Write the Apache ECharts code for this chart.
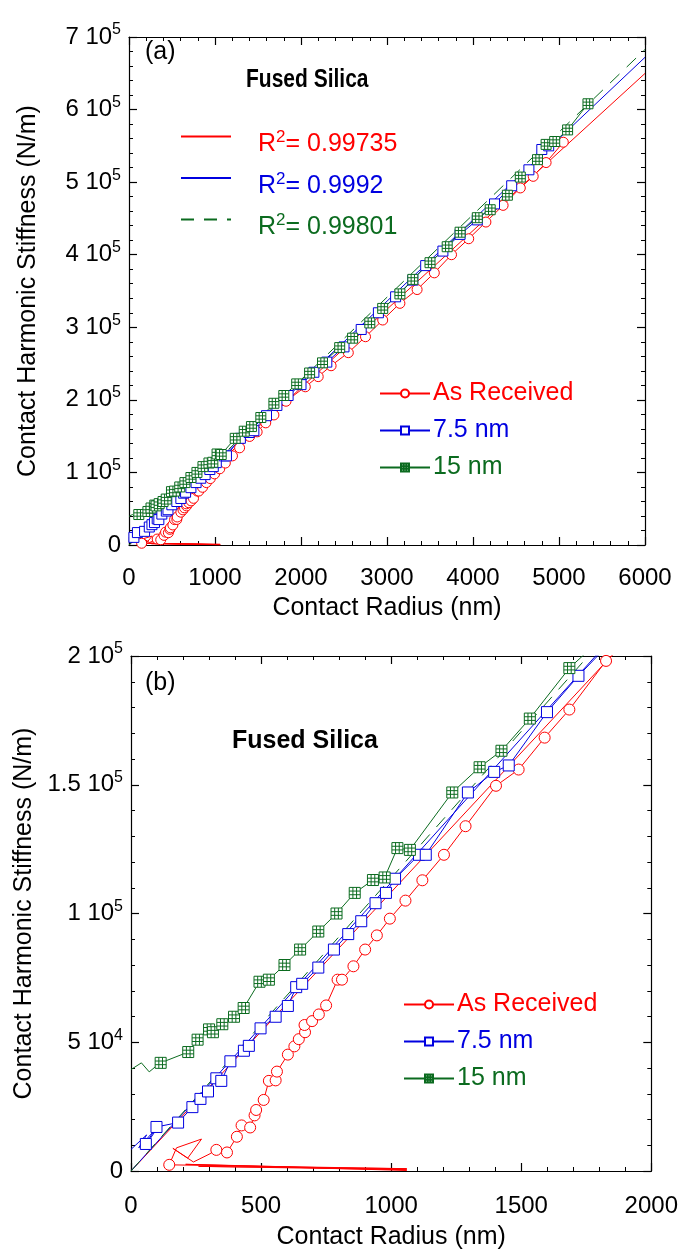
<!DOCTYPE html>
<html><head><meta charset="utf-8">
<script src="https://cdn.jsdelivr.net/npm/echarts@6/dist/echarts.min.js"></script>
<style>html,body{margin:0;padding:0;background:#fff}#c{width:681px;height:1251px}</style>
</head><body><div id="c"></div><script>
// ---- data (contact radius nm, stiffness N/m) ----
const seriesNames = ['As Received', '7.5 nm', '15 nm'];
const r2Labels = ['0.99735', '0.9992', '0.99801'];
const fitSlopes = [108.3, 112.0, 113.8];   // N/m per nm (linear fits through origin)
const fitRange = [0, 6000];

const asRecMarks = [[147,2400],[328,8200],[369,7200],[407,13300],[425,17700],[458,16900],[475,21600],[481,23700],[510,27600],[530,35000],[556,35200],[561,38600],[603,45200],[628,48400],[645,51200],[669,53900],[667,56700],[696,58200],[722,60800],[750,64300],[794,74300],[811,74300],[855,79500],[900,86000],[945,91500],[995,98000],[1055,105000],[1120,112900],[1203,122800],[1286,133900],[1403,149600],[1490,155900],[1590,168300],[1685,179200],[1826,198100],[2050,218000],[2200,232000],[2350,247000],[2550,265000],[2750,287000],[2950,310000],[3150,333000],[3350,352000],[3550,375000],[3750,400000],[3950,422000],[4150,445000],[4350,468000],[4550,492000],[4700,508000],[4850,527000],[5050,555000]];
const asRecPath = [[1060,200],[210,2600],[1060,500],[260,1800],[1060,900],[147,2400],[175,9000],[271,12400],[218,5000],[161,8800],[240,3500],[300,6500],[328,8200],[369,7200],[407,13300],[425,17700],[458,16900],[475,21600],[481,23700],[510,27600],[530,35000],[556,35200],[561,38600],[603,45200],[628,48400],[645,51200],[669,53900],[667,56700],[696,58200],[722,60800],[750,64300],[794,74300],[811,74300],[855,79500],[900,86000],[945,91500],[995,98000],[1055,105000],[1120,112900],[1203,122800],[1286,133900],[1403,149600],[1490,155900],[1590,168300],[1685,179200],[1826,198100],[2050,218000],[2200,232000],[2350,247000],[2550,265000],[2750,287000],[2950,310000],[3150,333000],[3350,352000],[3550,375000],[3750,400000],[3950,422000],[4150,445000],[4350,468000],[4550,492000],[4700,508000],[4850,527000],[5050,555000]];

const nm75Marks = [[57,10500],[98,17100],[181,18800],[236,24800],[267,28000],[296,30900],[328,36000],[347,35000],[382,42600],[434,46700],[453,48600],[498,55400],[556,59900],[603,64100],[635,71400],[658,72700],[720,79000],[780,86000],[835,92000],[885,97000],[940,104000],[980,108000],[1015,113500],[1107,122800],[1133,122800],[1295,147000],[1396,155000],[1452,157500],[1599,178200],[1720,192300],[1850,206000],[2000,221000],[2150,238000],[2300,252000],[2500,273000],[2700,297000],[2900,320000],[3100,342000],[3300,365000],[3450,385000],[3650,405000],[3850,428000],[4050,448000],[4250,470000],[4450,495000],[4650,517000],[4800,545000],[4880,550000]];
const nm75Path = [[0,8400],[60,14000],[30,9000],[110,18000],[70,12000],[57,10500],[98,17100],[181,18800],[236,24800],[267,28000],[296,30900],[328,36000],[347,35000],[382,42600],[434,46700],[453,48600],[498,55400],[556,59900],[603,64100],[635,71400],[658,72700],[720,79000],[780,86000],[835,92000],[885,97000],[940,104000],[980,108000],[1015,113500],[1107,122800],[1133,122800],[1295,147000],[1396,155000],[1452,157500],[1599,178200],[1720,192300],[1850,206000],[2000,221000],[2150,238000],[2300,252000],[2500,273000],[2700,297000],[2900,320000],[3100,342000],[3300,365000],[3450,385000],[3650,405000],[3850,428000],[4050,448000],[4250,470000],[4450,495000],[4650,517000],[4800,545000],[4880,550000]];

const nm15Marks = [[114,42000],[220,46200],[256,51000],[300,55000],[315,53900],[351,57000],[396,59900],[433,63300],[494,73500],[530,74300],[590,80000],[650,86000],[720,93000],[790,100000],[860,108000],[930,113000],[975,114000],[1024,125400],[1072,124700],[1235,147000],[1340,156800],[1424,163200],[1533,175700],[1685,195300],[1800,206000],[1950,222000],[2100,237000],[2250,251000],[2450,272000],[2600,285000],[2800,306000],[2950,326000],[3150,346000],[3300,366000],[3500,389000],[3700,411000],[3850,431000],[4050,451000],[4200,462000],[4400,482000],[4550,507000],[4750,531000],[4850,552000],[4950,556000],[5100,572000],[5337,608000]];
const nm15Path = [[0,39400],[40,42000],[70,38500],[100,41000],[114,42000],[220,46200],[256,51000],[300,55000],[315,53900],[351,57000],[396,59900],[433,63300],[494,73500],[530,74300],[590,80000],[650,86000],[720,93000],[790,100000],[860,108000],[930,113000],[975,114000],[1024,125400],[1072,124700],[1235,147000],[1340,156800],[1424,163200],[1533,175700],[1685,195300],[1800,206000],[1950,222000],[2100,237000],[2250,251000],[2450,272000],[2600,285000],[2800,306000],[2950,326000],[3150,346000],[3300,366000],[3500,389000],[3700,411000],[3850,431000],[4050,451000],[4200,462000],[4400,482000],[4550,507000],[4750,531000],[4850,552000],[4950,556000],[5100,572000],[5337,608000]];

// ---- styling ----
const FONT = '"Liberation Sans", Arial, sans-serif';
const COLORS = ['#ff0000', '#0000e0', '#0b6b1f'];
const GRID_SYM = 'path://M0 0H9V9H0Z M3 0V9 M6 0V9 M0 3H9 M0 6H9';
const SYMBOLS = ['circle', 'rect', GRID_SYM];
const paths = [asRecPath, nm75Path, nm15Path];
const marks = [asRecMarks, nm75Marks, nm15Marks];

function sciLabel(v) {
  if (v === 0) return '{b|0}';
  const e = Math.floor(Math.log10(v) + 1e-9);
  const m = +(v / Math.pow(10, e)).toFixed(2);
  return '{b|' + m + ' 10}{s|' + e + '}';
}
const labelRich = {
  b: {fontSize: 24, fontFamily: FONT, color: '#000'},
  s: {fontSize: 16, fontFamily: FONT, color: '#000', verticalAlign: 'top', padding: [0, 0, 14, 0]}
};
function axisCommon(extra) {
  return Object.assign({
    type: 'value', splitLine: {show: false},
    axisLine: {show: true, onZero: false, lineStyle: {color: '#000', width: 1.2}},
    axisTick: {show: true, inside: true, length: 8, lineStyle: {color: '#000', width: 1.2}},
    minorTick: {show: true, splitNumber: 5, length: 4, lineStyle: {color: '#000', width: 1}},
  }, extra);
}
function xAxes(gi, max, interval, gap, margin) {
  return [
    axisCommon({gridIndex: gi, min: 0, max: max, interval: interval, position: 'bottom',
      name: 'Contact Radius (nm)', nameLocation: 'middle', nameGap: gap,
      nameTextStyle: {fontSize: 25, fontFamily: FONT, color: '#000'},
      axisLabel: {fontSize: 24, fontFamily: FONT, color: '#000', margin: margin, formatter: function (v) { return String(v); }}}),
    axisCommon({gridIndex: gi, min: 0, max: max, interval: interval, position: 'top', axisLabel: {show: false}})
  ];
}
function yAxes(gi, max, interval) {
  return [
    axisCommon({gridIndex: gi, min: 0, max: max, interval: interval, position: 'left',
      name: 'Contact Harmonic Stiffness (N/m)', nameLocation: 'middle', nameGap: 88,
      nameTextStyle: {fontSize: 25, fontFamily: FONT, color: '#000'},
      axisLabel: {margin: 8, formatter: sciLabel, rich: labelRich}}),
    axisCommon({gridIndex: gi, min: 0, max: max, interval: interval, position: 'right', axisLabel: {show: false}})
  ];
}

const series = [];
[0, 1].forEach(function (gi) {
  const xi = gi * 2, yi = gi * 2;
  const symSize = gi === 0 ? 10 : 11;
  // fit lines
  fitSlopes.forEach(function (k, i) {
    series.push({
      type: 'line', name: gi === 0 ? 'fit' + i : 'fitB' + i, xAxisIndex: xi, yAxisIndex: yi,
      data: fitRange.map(function (x) { return [x, k * x]; }),
      symbol: 'none', silent: true, clip: true, z: 1,
      itemStyle: {color: 'rgba(0,0,0,0)', borderWidth: 0},
      lineStyle: {color: COLORS[i], width: 1, type: i === 2 ? [13, 10] : 'solid'}
    });
  });
  // data series
  seriesNames.forEach(function (nm, i) {
    series.push({
      type: 'line', name: nm, xAxisIndex: xi, yAxisIndex: yi, data: paths[i],
      symbol: SYMBOLS[i], symbolSize: symSize, showSymbol: false, clip: true, z: 2,
      lineStyle: {color: COLORS[i], width: 1},
      itemStyle: {color: '#fff', borderColor: COLORS[i], borderWidth: 1}
    });
    series.push({
      type: 'scatter', name: nm, xAxisIndex: xi, yAxisIndex: yi, data: marks[i],
      symbol: SYMBOLS[i], symbolSize: symSize, clip: true, z: 3,
      itemStyle: {color: '#fff', borderColor: COLORS[i], borderWidth: 1, opacity: 1}
    });
  });
});

function seriesLegend(left, top) {
  return {
    orient: 'vertical', left: left, top: top, padding: 0, itemWidth: 50, itemHeight: 10, itemGap: 12,
    selectedMode: false,
    data: seriesNames.map(function (n, i) { return {name: n, textStyle: {color: COLORS[i]}}; }),
    textStyle: {fontSize: 25, fontFamily: FONT, padding: [0, 0, 0, -2]}
  };
}
const r2Rich = {};
COLORS.forEach(function (c, i) {
  r2Rich['t' + i] = {fontSize: 25, fontFamily: FONT, color: c};
  r2Rich['s' + i] = {fontSize: 17, fontFamily: FONT, color: c, verticalAlign: 'top', padding: [0, 0, 14, 0]};
});

const option = {
  backgroundColor: '#fff', animation: false,
  grid: [
    {left: 129, right: 36, top: 37, bottom: 706, containLabel: false},
    {left: 131, right: 28, top: 656, bottom: 73, containLabel: false}
  ],
  xAxis: xAxes(0, 6000, 1000, 51, 21).concat(xAxes(1, 2000, 500, 54, 23)),
  yAxis: yAxes(0, 700000, 100000).concat(yAxes(1, 200000, 50000)),
  title: [
    {text: '(a)', left: 145, top: 40, padding: 0, textStyle: {fontSize: 25, fontWeight: 'normal', fontFamily: FONT, color: '#000'}},
    {text: '(b)', left: 145, top: 671, padding: 0, textStyle: {fontSize: 25, fontWeight: 'normal', fontFamily: FONT, color: '#000'}},
    {text: 'Fused Silica', left: 232, top: 729, padding: 0, textStyle: {fontSize: 25, fontWeight: 'bold', fontFamily: FONT, color: '#000'}}
  ],
  graphic: [
    {type: 'text', x: 246, y: 68, scaleX: 0.84, style: {text: 'Fused Silica', fontSize: 25, fontWeight: 'bold', fontFamily: FONT, fill: '#000'}}
  ],
  legend: [
    seriesLegend(379, 381),
    seriesLegend(403, 992),
    {
      orient: 'vertical', left: 180, top: 129, padding: 0, itemWidth: 50, itemHeight: 10, itemGap: 13.5,
      selectedMode: false,
      data: ['fit0', 'fit1', 'fit2'],
      formatter: function (n) { const i = +n.slice(3); return '{t' + i + '|R}{s' + i + '|2}{t' + i + '|= ' + r2Labels[i] + '}'; },
      textStyle: {fontSize: 25, fontFamily: FONT, rich: r2Rich, padding: [16, 0, 0, 22]}
    }
  ],
  series: series
};
const chart = echarts.init(document.getElementById('c'), null, {renderer: 'canvas'});
chart.setOption(option);
</script></body></html>
